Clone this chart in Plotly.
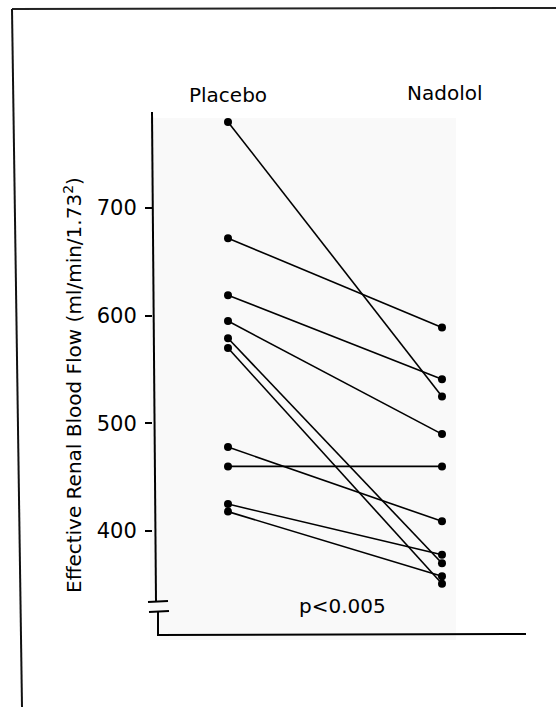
import plotly.graph_objects as go

# ---- data ----
groups = ["Placebo", "Nadolol"]
placebo = [780, 672, 619, 595, 579, 570, 478, 460, 425, 418]
nadolol = [525, 589, 541, 490, 370, 351, 409, 460, 378, 358]
y_ticks = [400, 500, 600, 700]
y_title = "Effective Renal Blood Flow (ml/min/1.73<sup>2</sup>)"
p_text = "p<0.005"

W, H = 556, 707
FONT = "DejaVu Sans, Liberation Sans, Arial, sans-serif"


def px(x):
    return x / W


def py(y):
    return 1 - y / H


fig = go.Figure()
for a, b in zip(placebo, nadolol):
    fig.add_trace(go.Scatter(
        x=[0, 1], y=[a, b], mode="lines+markers",
        line=dict(color="black", width=1.6),
        marker=dict(color="black", size=8),
        showlegend=False, hoverinfo="skip",
    ))

shapes = []
# faint scan background
shapes.append(dict(type="rect", xref="paper", yref="paper",
                   x0=px(150), x1=px(456), y0=py(640), y1=py(118),
                   fillcolor="#f9f9f9", line=dict(width=0), layer="below"))
# outer frame (top and left)
shapes.append(dict(type="line", xref="paper", yref="paper",
                   x0=px(12), x1=px(556), y0=py(9), y1=py(8),
                   line=dict(color="#222", width=2)))
shapes.append(dict(type="line", xref="paper", yref="paper",
                   x0=px(12), x1=px(22), y0=py(9), y1=py(707),
                   line=dict(color="#111", width=2)))
# y axis line (upper part)
shapes.append(dict(type="line", xref="paper", yref="paper",
                   x0=px(152), x1=px(156), y0=py(112), y1=py(601),
                   line=dict(color="black", width=2)))
# break marks
shapes.append(dict(type="line", xref="paper", yref="paper",
                   x0=px(148), x1=px(168), y0=py(602), y1=py(601),
                   line=dict(color="black", width=2)))
shapes.append(dict(type="line", xref="paper", yref="paper",
                   x0=px(149), x1=px(169), y0=py(612), y1=py(611),
                   line=dict(color="black", width=2)))
# y axis lower part
shapes.append(dict(type="line", xref="paper", yref="paper",
                   x0=px(158), x1=px(158), y0=py(611), y1=py(635),
                   line=dict(color="black", width=2)))
# x axis line
shapes.append(dict(type="line", xref="paper", yref="paper",
                   x0=px(157), x1=px(526), y0=py(635), y1=py(634),
                   line=dict(color="black", width=2)))

common = dict(xref="paper", yref="paper", showarrow=False,
              xanchor="center", yanchor="middle")
annotations = [
    dict(text=groups[0], x=px(228), y=py(95),
         font=dict(family=FONT, size=20, color="black"), **common),
    dict(text=groups[1], x=px(445), y=py(93),
         font=dict(family=FONT, size=20, color="black"), **common),
    dict(text=y_title, x=px(73), y=py(385), textangle=-90,
         font=dict(family=FONT, size=20, color="black"), **common),
    dict(text=p_text, x=px(342), y=py(606),
         font=dict(family=FONT, size=20, color="black"), **common),
]

fig.update_layout(
    width=W, height=H,
    margin=dict(l=0, r=0, t=0, b=0),
    paper_bgcolor="white", plot_bgcolor="rgba(0,0,0,0)",
    shapes=shapes, annotations=annotations,
    xaxis=dict(domain=[px(153), px(525)], range=[-0.3505, 1.3879],
               showgrid=False, zeroline=False, showline=False,
               showticklabels=False, ticks=""),
    yaxis=dict(domain=[py(635), py(112)], range=[303.4, 789.2],
               showgrid=False, zeroline=False, showline=False,
               tickvals=y_ticks, ticks="outside", ticklen=7,
               tickcolor="black", tickwidth=1.5, ticklabelstandoff=4,
               tickfont=dict(family=FONT, size=21, color="black")),
)

fig.write_html(
    "out.html",
    config={"displayModeBar": False},
    post_script="document.body.style.margin='0px';document.body.style.overflow='hidden';",
)
